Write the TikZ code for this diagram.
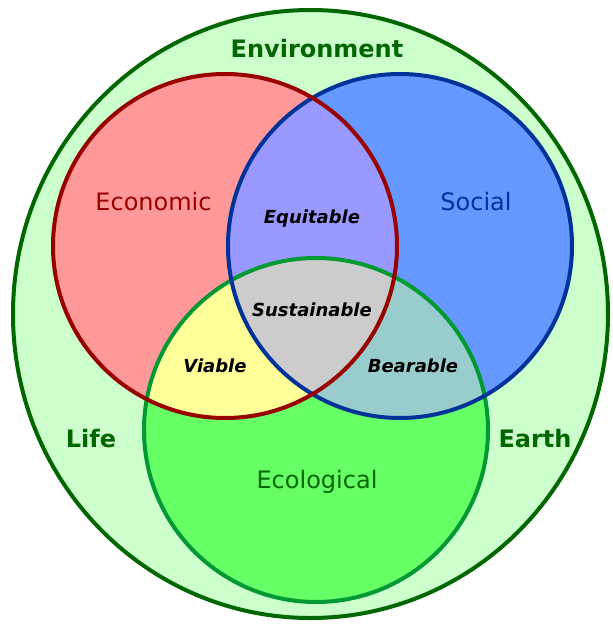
\documentclass[tikz,border=0pt]{standalone}
\usepackage{fontspec}
\setmainfont{DejaVu Sans}
\definecolor{envfill}{HTML}{CCFFCC}
\definecolor{envline}{HTML}{006600}
\definecolor{ecofill}{HTML}{FF9999}
\definecolor{ecoline}{HTML}{990000}
\definecolor{socfill}{HTML}{6699FF}
\definecolor{socline}{HTML}{003399}
\definecolor{ecolfill}{HTML}{66FF66}
\definecolor{ecolline}{HTML}{009933}
\definecolor{equfill}{HTML}{9999FF}
\definecolor{viafill}{HTML}{FFFF99}
\definecolor{beafill}{HTML}{99CCCC}
\definecolor{susfill}{HTML}{CCCCCC}
\begin{document}
\begin{tikzpicture}[x=1pt,y=-1pt,
  ring/.style={line width=4pt},
  biglabel/.style={font=\fontsize{24}{28}\selectfont\bfseries, text=envline, anchor=base, inner sep=0pt},
  setlabel/.style={font=\fontsize{24}{28}\selectfont, anchor=base, inner sep=0pt},
  zonelabel/.style={font=\fontsize{18}{22}\selectfont\bfseries\itshape, text=black, anchor=base, inner sep=0pt}]
\useasboundingbox (0,0) rectangle (613,624);
\fill[white] (0,0) rectangle (613,624);
\def\ecoc{(225,246) circle[radius=172pt]}
\def\socc{(400,246) circle[radius=172pt]}
\def\eclc{(316,430) circle[radius=172pt]}
% environment
\draw[ring, draw=envline, fill=envfill] (310.5,314) ellipse[x radius=297.5pt, y radius=304pt];
% set fills
\fill[ecofill] \ecoc;
\fill[socfill] \socc;
\fill[ecolfill] \eclc;
% pairwise intersections
\begin{scope}\clip \ecoc; \fill[equfill] \socc; \end{scope}
\begin{scope}\clip \ecoc; \fill[viafill] \eclc; \end{scope}
\begin{scope}\clip \socc; \fill[beafill] \eclc; \end{scope}
\begin{scope}\clip \ecoc; \clip \socc; \fill[susfill] \eclc; \end{scope}
% outlines
\draw[ring, draw=ecolline] \eclc;
\draw[ring, draw=socline] \socc;
\draw[ring, draw=ecoline] \ecoc;
% labels
\node[biglabel] (env) at (317,57) {Environment};
\node[biglabel] (life) at (91,447) {Life};
\node[biglabel] (earth) at (535,447) {Earth};
\node[setlabel, text=ecoline] (economic) at (153.5,210) {Economic};
\node[setlabel, text=socline] (social) at (476,210) {Social};
\node[setlabel, text=envline] (ecological) at (317,488) {Ecological};
\node[zonelabel] (equitable) at (312,223) {Equitable};
\node[zonelabel] (sustainable) at (312,316) {Sustainable};
\node[zonelabel] (viable) at (215,372) {Viable};
\node[zonelabel] (bearable) at (413,372) {Bearable};
\end{tikzpicture}
\end{document}
